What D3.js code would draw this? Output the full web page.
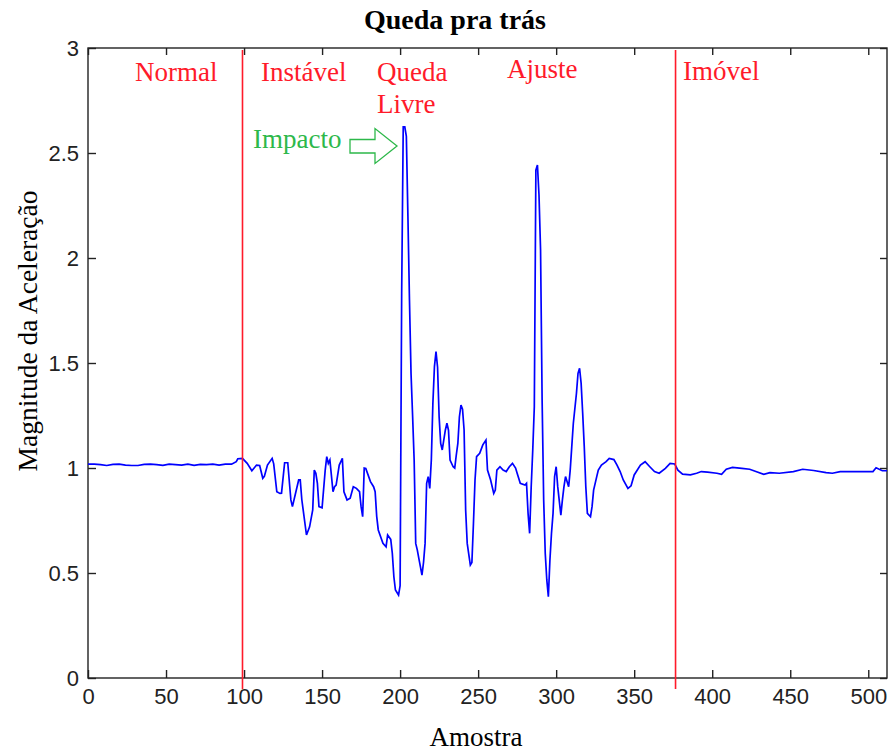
<!DOCTYPE html>
<html>
<head>
<meta charset="utf-8">
<script src="https://cdn.jsdelivr.net/npm/d3@7"></script>
<style>
  html, body { margin: 0; padding: 0; background: #fff; }
  svg { display: block; }
  .tick text { font-family: "Liberation Sans", Arial, sans-serif; font-size: 22px; fill: #222; }
  .serif { font-family: "Liberation Serif", "Times New Roman", serif; }
</style>
</head>
<body>
<script>
// Sample index of each reading (fall recorded backwards)
const sampleIndex = [
  0, 4, 8, 12, 16, 20, 24, 28, 32, 36, 40, 44, 48, 52, 56, 60, 64, 68, 72, 76, 80, 84, 88, 92,
  95, 96, 99, 102, 105, 108, 110, 112, 113, 115, 118, 119, 121, 123, 124, 126, 128, 130, 131,
  135, 136, 137, 140, 142, 144, 145, 146, 147, 148, 150, 152, 153, 154, 155, 157, 158, 159,
  161, 163, 164, 166, 168, 170, 172, 174, 175, 176, 177, 178, 181, 183, 184, 185, 186, 189,
  191, 192, 194, 195, 196, 197, 199, 200, 201, 202, 203, 204, 205, 206, 207, 208, 209, 210,
  211, 212, 213, 214, 215, 216, 217, 218, 219, 220, 221, 222, 223, 224, 225, 226, 227, 229,
  230, 231, 232, 234, 235, 236, 237, 238, 239, 240, 241, 242, 243, 245, 246, 247, 248, 249,
  251, 253, 255, 256, 258, 260, 261, 262, 264, 266, 268, 270, 272, 274, 275, 277, 280, 281,
  282, 283, 284, 285, 286, 287, 288, 289, 290, 291, 292, 293, 294, 295, 296, 297, 298, 299,
  300, 301, 303, 304, 305, 306, 308, 309, 310, 311, 313, 314, 315, 316, 317, 318, 319, 320,
  322, 323, 324, 326, 327, 329, 332, 334, 337, 339, 341, 343, 346, 348, 350, 354, 357, 360,
  363, 366, 370, 373, 376, 378, 381, 386, 390, 393, 397, 403, 406, 409, 413, 419, 424, 428,
  433, 437, 443, 452, 458, 465, 473, 477, 482, 488, 494, 503, 505, 509, 512
];

// Acceleration magnitude (g) at each sample
const accelMagnitude = [
  1.018, 1.018, 1.016, 1.012, 1.017, 1.018, 1.014, 1.012, 1.012, 1.017, 1.018, 1.016, 1.013,
  1.018, 1.016, 1.014, 1.018, 1.013, 1.017, 1.016, 1.018, 1.014, 1.018, 1.018,
  1.030, 1.044, 1.046, 1.022, 0.987, 1.014, 1.012, 0.951, 0.960, 1.014, 1.046, 1.020, 0.887,
  0.879, 0.880, 1.025, 1.025, 0.848, 0.816,
  0.943, 0.943, 0.850, 0.681, 0.720, 0.800, 0.990, 0.975, 0.927, 0.816, 0.810, 0.990, 1.054,
  1.022, 1.038, 0.887, 0.911, 0.919,
  1.014, 1.046, 0.887, 0.848, 0.856, 0.911, 0.903, 0.887, 0.816, 0.768, 1.000, 0.998, 0.935,
  0.911, 0.887, 0.770, 0.705, 0.641,
  0.625, 0.681, 0.660, 0.594, 0.482, 0.419, 0.395, 0.440, 1.832, 2.625, 2.625, 2.579, 2.200,
  1.800, 1.450, 1.250, 1.038, 0.641,
  0.610, 0.570, 0.530, 0.490, 0.550, 0.641, 0.927, 0.959, 0.903, 1.038, 1.308, 1.483, 1.554,
  1.480, 1.244, 1.117, 1.086, 1.181,
  1.213, 1.180, 1.038, 1.006, 1.000, 1.062, 1.117, 1.244, 1.300, 1.280, 1.181, 0.800, 0.641,
  0.538, 0.550, 0.737, 0.943, 1.054,
  1.070, 1.110, 1.133, 0.990, 0.943, 0.879, 0.895, 0.990, 1.006, 0.990, 0.983, 1.006, 1.022,
  1.000, 0.975, 0.927, 0.919, 0.927,
  0.784, 0.689, 0.911, 1.086, 1.292, 2.419, 2.443, 2.300, 2.038, 1.324, 0.848, 0.594, 0.467,
  0.387, 0.562, 0.689, 0.784, 0.959,
  1.006, 0.911, 0.776, 0.848, 0.911, 0.959, 0.911, 0.990, 1.102, 1.213, 1.356, 1.451, 1.475,
  1.403, 1.260, 1.102, 0.911, 0.784,
  0.768, 0.816, 0.895, 0.959, 0.990, 1.014, 1.030, 1.046, 1.040, 1.014, 0.983, 0.943, 0.903,
  0.915, 0.967, 1.014, 1.030, 1.006,
  0.983, 0.975, 0.998, 1.022, 1.019, 0.990, 0.971, 0.967, 0.975, 0.983, 0.980, 0.975, 0.970,
  0.994, 1.003, 0.998, 0.994, 0.983,
  0.970, 0.978, 0.975, 0.983, 0.994, 0.988, 0.978, 0.975, 0.983, 0.983, 0.983, 0.983, 1.001,
  0.987, 0.987
];

// Axis ticks
const xTickValues = [0, 50, 100, 150, 200, 250, 300, 350, 400, 450, 500];
const yTickValues = [0, 0.5, 1, 1.5, 2, 2.5, 3];

// Phase boundaries (sample index) and phase names
const phaseBoundaries = [99, 376.5];
const phaseNames = ["Normal", "Instável", "Queda", "Livre", "Ajuste", "Imóvel"];
const impactLabel = "Impacto";

const titleText = "Queda pra trás";
const xAxisTitle = "Amostra";
const yAxisTitle = "Magnitude da Aceleração";

// ---------------------------------------------------------------------
const W = 890, H = 753;
const plot = { left: 88, top: 48, right: 887, bottom: 678 };

const svg = d3.select("body").append("svg")
  .attr("width", W).attr("height", H);

const x = d3.scaleLinear().domain([0, 512]).range([plot.left, plot.right]);
const y = d3.scaleLinear().domain([0, 3]).range([plot.bottom, plot.top]);

const axisColor = "#222";

// Bottom axis with labels, inward ticks
svg.append("g")
  .attr("transform", `translate(0,${plot.bottom})`)
  .call(d3.axisBottom(x).tickValues(xTickValues).tickSize(-8).tickSizeOuter(0).tickPadding(10)
    .tickFormat(d => String(d)));

// Left axis with labels, inward ticks
svg.append("g")
  .attr("transform", `translate(${plot.left},0)`)
  .call(d3.axisLeft(y).tickValues(yTickValues).tickSize(-8).tickSizeOuter(0).tickPadding(9)
    .tickFormat(d => String(d)));

// Top and right axes: ticks only
svg.append("g")
  .attr("transform", `translate(0,${plot.top})`)
  .call(d3.axisTop(x).tickValues(xTickValues).tickSize(-7).tickSizeOuter(0).tickFormat(""));
svg.append("g")
  .attr("transform", `translate(${plot.right},0)`)
  .call(d3.axisRight(y).tickValues(yTickValues).tickSize(-7).tickSizeOuter(0).tickFormat(""));

svg.selectAll(".domain").remove();
svg.selectAll(".tick line").attr("stroke", axisColor).attr("stroke-width", 1.4);

// Plot frame
svg.append("rect")
  .attr("x", plot.left).attr("y", plot.top)
  .attr("width", plot.right - plot.left).attr("height", plot.bottom - plot.top)
  .attr("fill", "none").attr("stroke", axisColor).attr("stroke-width", 1.4);

// Signal
const line = d3.line()
  .x((d, i) => x(sampleIndex[i]))
  .y(d => y(d));

svg.append("path")
  .datum(accelMagnitude)
  .attr("d", line)
  .attr("fill", "none")
  .attr("stroke", "#0000ff")
  .attr("stroke-width", 1.7)
  .attr("stroke-linejoin", "miter");

// Phase boundary lines
svg.selectAll(".phase-line")
  .data(phaseBoundaries)
  .enter().append("line")
  .attr("class", "phase-line")
  .attr("x1", d => x(d)).attr("x2", d => x(d))
  .attr("y1", plot.top + 2).attr("y2", plot.bottom + 11)
  .attr("stroke", "#ff1a2a").attr("stroke-width", 1.6);

// Phase names
const phaseLayout = [
  { dx: 135, dy: 81 },
  { dx: 261, dy: 81 },
  { dx: 377, dy: 81 },
  { dx: 377, dy: 113 },
  { dx: 507, dy: 78 },
  { dx: 683, dy: 80 }
];
svg.selectAll(".phase-name")
  .data(phaseNames)
  .enter().append("text")
  .attr("class", "phase-name serif")
  .attr("x", (d, i) => phaseLayout[i].dx)
  .attr("y", (d, i) => phaseLayout[i].dy)
  .attr("font-size", 27)
  .attr("fill", "#ff1a2a")
  .text(d => d);

// Impact annotation with hollow arrow
const green = "#2db84a";
svg.append("text")
  .attr("class", "serif")
  .attr("x", 253).attr("y", 148)
  .attr("font-size", 27)
  .attr("fill", green)
  .text(impactLabel);

const arrow = [[350, 139.5], [375, 139.5], [375, 128.5], [397, 146], [375, 163.5], [375, 153], [350, 153]];
svg.append("polygon")
  .attr("points", arrow.map(p => p.join(",")).join(" "))
  .attr("fill", "none")
  .attr("stroke", green)
  .attr("stroke-width", 1.3);

// Titles
svg.append("text")
  .attr("class", "serif")
  .attr("x", 455).attr("y", 29)
  .attr("text-anchor", "middle")
  .attr("font-size", 28)
  .attr("font-weight", "bold")
  .attr("fill", "#000")
  .text(titleText);

svg.append("text")
  .attr("class", "serif")
  .attr("x", 476).attr("y", 746)
  .attr("text-anchor", "middle")
  .attr("font-size", 27)
  .attr("fill", "#000")
  .text(xAxisTitle);

svg.append("text")
  .attr("class", "serif")
  .attr("transform", `translate(37,331) rotate(-90)`)
  .attr("text-anchor", "middle")
  .attr("font-size", 27.5)
  .attr("fill", "#000")
  .text(yAxisTitle);
</script>
</body>
</html>
